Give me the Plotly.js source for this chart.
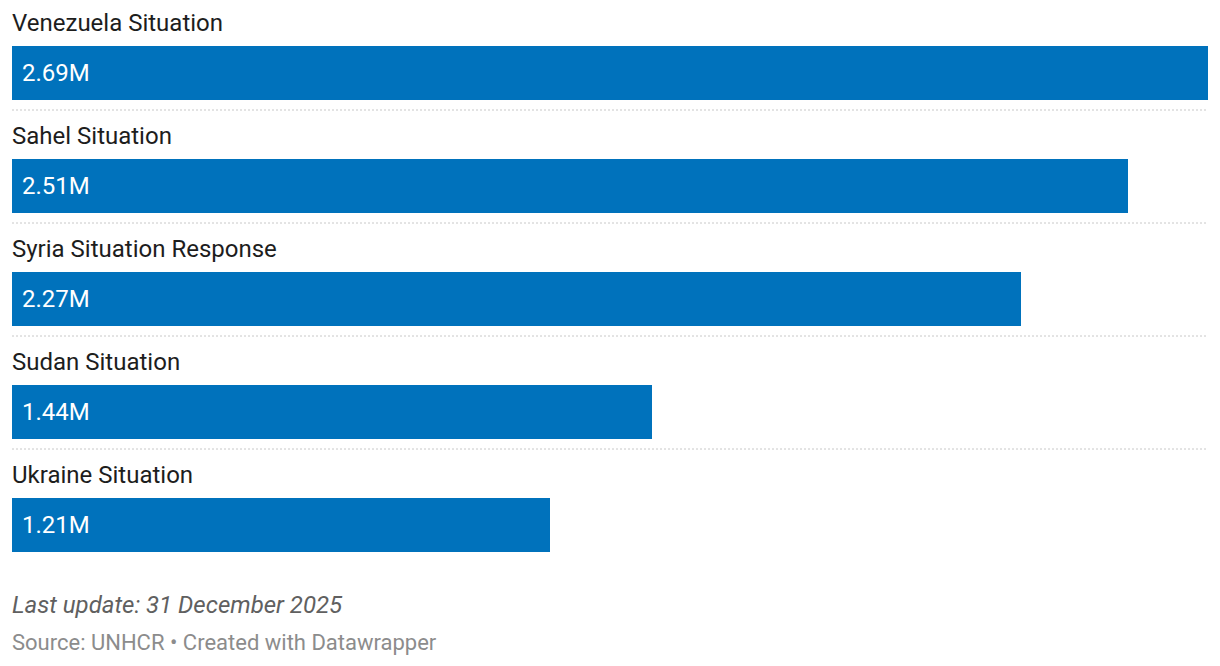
<!DOCTYPE html>
<html>
<head>
<meta charset="utf-8">
<script src="https://cdn.plot.ly/plotly-3.0.1.min.js"></script>
<style>
html,body{margin:0;padding:0;background:#fff;}
#chart{width:1220px;height:666px;}
</style>
</head>
<body>
<div id="chart"></div>
<script>
const categories = ["Venezuela Situation", "Sahel Situation", "Syria Situation Response", "Sudan Situation", "Ukraine Situation"];
const values = [2.69, 2.51, 2.27, 1.44, 1.21];
const valueLabels = ["2.69M", "2.51M", "2.27M", "1.44M", "1.21M"];
const footerNote = "Last update: 31 December 2025";
const footerSource = "Source: UNHCR • Created with Datawrapper";

const idx = categories.map((c, i) => i);
const BLUE = "#0072BC";
const FONT = "Roboto, 'Noto Sans', sans-serif";

const trace = {
  type: "bar",
  orientation: "h",
  x: values,
  y: idx,
  width: 54 / 113,
  marker: {color: BLUE, line: {width: 0}},
  hoverinfo: "skip"
};

const annotations = [];
categories.forEach((c, i) => {
  annotations.push({
    x: 0, y: i, xref: "x", yref: "y",
    text: c, showarrow: false,
    xanchor: "left", yanchor: "middle", yshift: 50, xshift: -2,
    font: {family: FONT, size: 24, color: "#1d1d1d"}
  });
  annotations.push({
    x: 0, y: i, xref: "x", yref: "y",
    text: valueLabels[i], showarrow: false,
    xanchor: "left", yanchor: "middle", xshift: 8,
    font: {family: FONT, size: 24, color: "#ffffff"}
  });
});
annotations.push({
  x: 0, y: 0, xref: "paper", yref: "paper",
  text: "<i>" + footerNote + "</i>", showarrow: false,
  xanchor: "left", yanchor: "middle", xshift: -2, yshift: -39,
  font: {family: FONT, size: 24, color: "#606060"}
});
annotations.push({
  x: 0, y: 0, xref: "paper", yref: "paper",
  text: footerSource, showarrow: false,
  xanchor: "left", yanchor: "middle", xshift: -2, yshift: -76,
  font: {family: FONT, size: 22, color: "#8c8c8c"}
});

const shapes = [];
for (let i = 0; i < categories.length - 1; i++) {
  shapes.push({
    type: "line", xref: "paper", yref: "y",
    x0: 0, x1: 1, y0: i + 37 / 113, y1: i + 37 / 113,
    line: {color: "#c8c8c8", width: 1, dash: "2px,2px"}
  });
}

const layout = {
  width: 1220, height: 666,
  margin: {l: 12, r: 12, t: 0, b: 100, pad: 0},
  paper_bgcolor: "#fff", plot_bgcolor: "#fff",
  showlegend: false,
  bargap: 0,
  xaxis: {range: [0, Math.max(...values)], visible: false, fixedrange: true},
  yaxis: {range: [4 + 41 / 113, -73 / 113], visible: false, fixedrange: true},
  annotations: annotations,
  shapes: shapes
};

Plotly.newPlot("chart", [trace], layout, {displayModeBar: false, staticPlot: true});
</script>
</body>
</html>
